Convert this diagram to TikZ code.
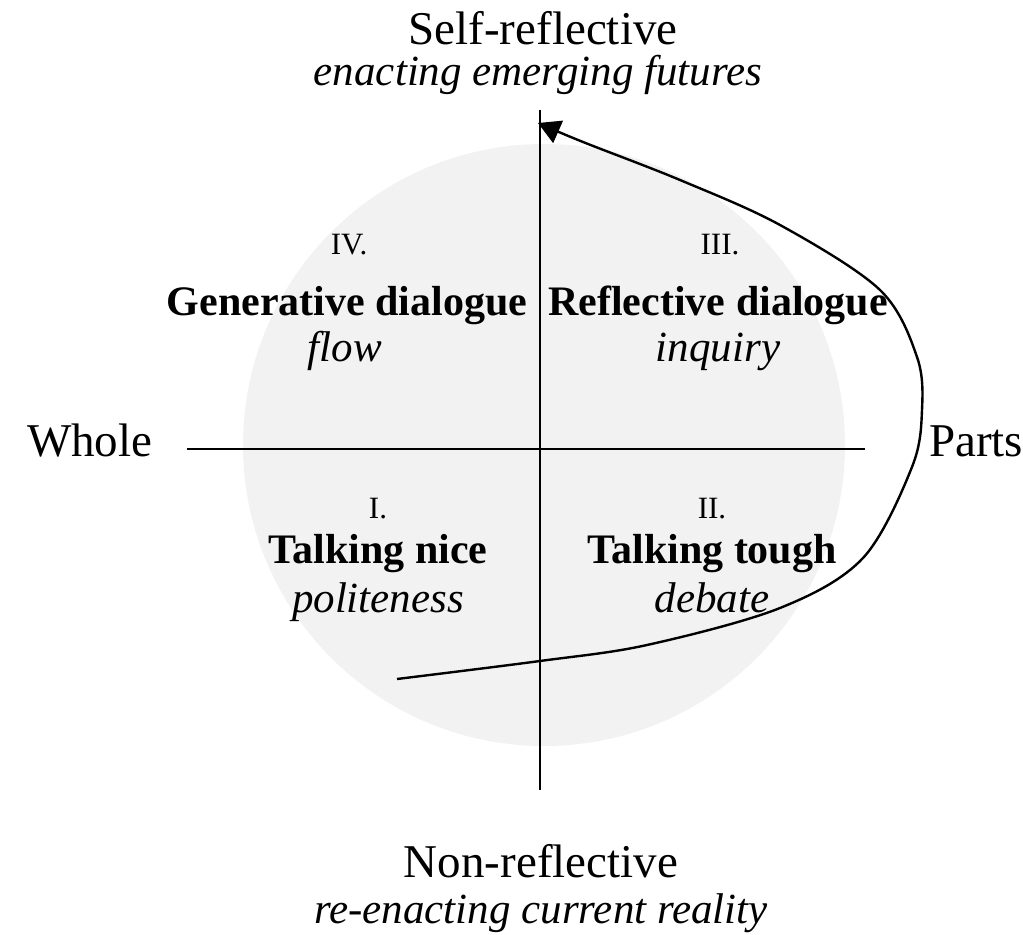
\documentclass[tikz,border=0pt]{standalone}
\usepackage{fontspec}
\setmainfont{Liberation Serif}
\usetikzlibrary{arrows.meta,positioning}

\begin{document}
\begin{tikzpicture}[x=0.5pt,y=-0.5pt,
  axis/.style={line width=1pt},
  pole/.style={font=\fontsize{23.5}{27}\selectfont,anchor=base},
  poletag/.style={font=\fontsize{21.5}{26}\selectfont\itshape,anchor=base},
  quadnum/.style={font=\fontsize{15.5}{18}\selectfont,anchor=base},
  quadname/.style={font=\fontsize{21}{25}\selectfont\bfseries,anchor=base},
  quadtag/.style={font=\fontsize{21.5}{26}\selectfont\itshape,anchor=base},
  cycle/.style={line width=1.2pt,-{Triangle[length=11pt,width=12pt]}}]
\useasboundingbox (0,0) rectangle (1023,935);
\fill[black!5] (544,445) circle[radius=301];
% axes
\coordinate (top) at (540,110);
\coordinate (bot) at (540,790);
\coordinate (lft) at (187,449);
\coordinate (rgt) at (865,449);
\draw[axis] (top) -- (bot);
\draw[axis] (lft) -- (rgt);
% poles
\node[pole] (self) at (543,45) {Self-reflective};
\node[poletag] (selftag) at (538,86) {enacting emerging futures};
\node[pole] (non) at (541,877) {Non-reflective};
\node[poletag] (nontag) at (541,923) {re-enacting current reality};
\node[pole,anchor=base west] (whole) at (20,457) {Whole};
\node[pole,anchor=base west] (parts) at (922,457) {Parts};
% quadrants
\node[quadnum] (q4) at (349,255) {IV.};
\node[quadname] (gen) at (347,316) {Generative dialogue};
\node[quadtag] (flow) at (345,362) {flow};
\node[quadnum] (q3) at (720,255) {III.};
\node[quadname] (refl) at (718,316) {Reflective dialogue};
\node[quadtag] (inq) at (718,362) {inquiry};
\node[quadnum] (q1) at (378,518) {I.};
\node[quadname] (nice) at (378,563) {Talking nice};
\node[quadtag] (polite) at (378,612) {politeness};
\node[quadnum] (q2) at (712,518) {II.};
\node[quadname] (tough) at (712,563) {Talking tough};
\node[quadtag] (debate) at (712,612) {debate};
% the loop
\coordinate (start) at (397,679);
\coordinate (tip) at (538,123);
\draw[cycle] plot[smooth,tension=0.55] coordinates {(start) (540,661) (647,645)
  (780,608) (863,558) (912,467) (922,410) (917,357) (880,290) (780,225)
  (680,180) (583,142) (tip)};
\end{tikzpicture}
\end{document}
